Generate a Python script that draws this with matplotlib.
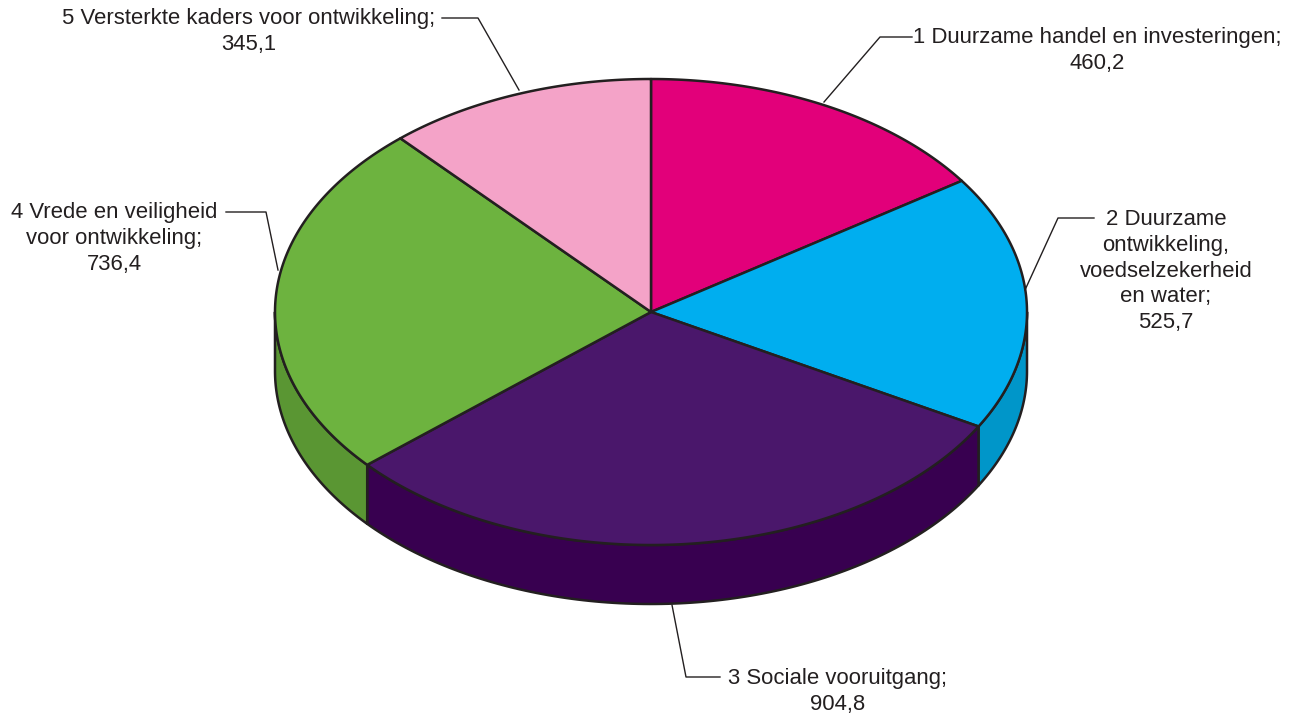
import numpy as np
import matplotlib
matplotlib.use("Agg")
import matplotlib.pyplot as plt
from matplotlib.patches import Polygon

plt.rcParams['font.family'] = ['Liberation Sans', 'DejaVu Sans']

# ---- data ----
categories = [
    "1 Duurzame handel en investeringen",
    "2 Duurzame\nontwikkeling,\nvoedselzekerheid\nen water",
    "3 Sociale vooruitgang",
    "4 Vrede en veiligheid\nvoor ontwikkeling",
    "5 Versterkte kaders voor ontwikkeling",
]
values = [460.2, 525.7, 904.8, 736.4, 345.1]
top_colors = ["#E2007A", "#00AEEF", "#4A176B", "#6DB33F", "#F4A3C8"]
side_colors = ["#B00060", "#0096C9", "#380050", "#5A9633", "#D086A8"]

# ---- layout (pixels) ----
W, H = 1305, 715
cx, cy = 651, 312
a, b = 376, 233
depth = 59
edge = "#231F20"

# label layout: (text x, text top y, leader points)
label_layout = [
    (1097, 27, [(824, 102), (880, 37), (912, 37)]),
    (1166, 209, [(1025, 290), (1058, 218), (1094, 218)]),
    (838, 668, [(672, 605), (686, 677), (720, 677)]),
    (114, 202, [(278, 270), (266, 212), (226, 212)]),
    (249, 8, [(519, 90), (478, 18), (442, 18)]),
]

fig = plt.figure(figsize=(W / 100, H / 100), dpi=100)
ax = fig.add_axes([0, 0, 1, 1])
ax.set_xlim(0, W)
ax.set_ylim(H, 0)
ax.axis("off")


def pt(t, dz=0.0):
    t = np.radians(t)
    return cx + a * np.cos(t), cy - b * np.sin(t) + dz


total = float(sum(values))
angles = [90.0]
for v in values:
    angles.append(angles[-1] - v / total * 360.0)

# sides (visible front half: t in [-180, 0])
for i in range(len(values)):
    t0, t1 = angles[i], angles[i + 1]  # t0 > t1
    lo, hi = max(t1, -180.0), min(t0, 0.0)
    if hi <= lo:
        continue
    ts = np.linspace(hi, lo, 120)
    top = [pt(t) for t in ts]
    bot = [pt(t, depth) for t in ts[::-1]]
    ax.add_patch(Polygon(top + bot, closed=True, facecolor=side_colors[i],
                         edgecolor=edge, lw=1.8, joinstyle="round", zorder=2))

# tops
for i in range(len(values)):
    t0, t1 = angles[i], angles[i + 1]
    ts = np.linspace(t0, t1, 200)
    poly = [(cx, cy)] + [pt(t) for t in ts]
    ax.add_patch(Polygon(poly, closed=True, facecolor=top_colors[i],
                         edgecolor=edge, lw=1.8, joinstyle="round", zorder=3))

# labels
for i, (name, v) in enumerate(zip(categories, values)):
    x, y, pts = label_layout[i]
    txt = name + ";\n" + f"{v:.1f}".replace(".", ",")
    ax.text(x, y, txt, ha="center", va="top", multialignment="center",
            fontsize=15.9, color="#231F20", linespacing=1.3, zorder=5)
    xs, ys = zip(*pts)
    ax.plot(xs, ys, color="#231F20", lw=1.0, zorder=4)

fig.savefig("out.png", dpi=100)
